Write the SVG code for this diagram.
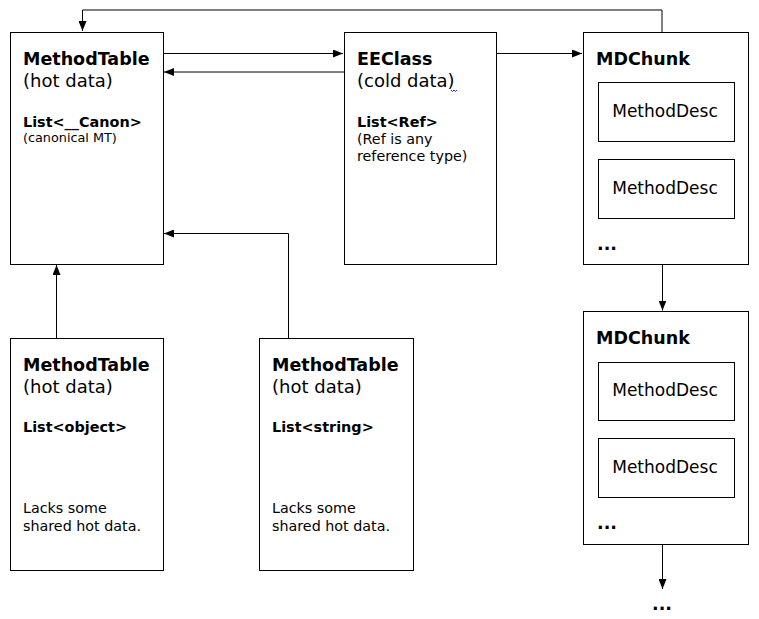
<svg xmlns="http://www.w3.org/2000/svg" width="759" height="619" viewBox="0 0 759 619">
<style>
.box{fill:#fff;stroke:#000;stroke-width:1}
.ln{fill:none;stroke:#000;stroke-width:1}
text{font-family:"DejaVu Sans",Verdana,sans-serif;fill:#000}
.t{font-size:17.5px;font-weight:bold}
.s{font-size:18px}
.b{font-size:14.4px;font-weight:bold}
.c{font-size:12.8px}
.m{font-size:14.3px}
.md{font-size:17px}
</style>
<defs>
<marker id="ah" markerWidth="10" markerHeight="8" refX="10" refY="4" orient="auto" markerUnits="userSpaceOnUse">
<path d="M0,0 L10,4 L0,8 Z" fill="#000"/>
</marker>
</defs>
<g id="connectors">
<path class="ln" d="M662,32 V10 H82.5 V31" marker-end="url(#ah)"/>
<path class="ln" d="M163,53.5 H343" marker-end="url(#ah)"/>
<path class="ln" d="M344,72 H164" marker-end="url(#ah)"/>
<path class="ln" d="M496,53.5 H582" marker-end="url(#ah)"/>
<path class="ln" d="M288.5,338 V233.5 H164" marker-end="url(#ah)"/>
<path class="ln" d="M56.5,338 V265" marker-end="url(#ah)"/>
<path class="ln" d="M662.5,265 V310.5" marker-end="url(#ah)"/>
<path class="ln" d="M662.5,544 V589" marker-end="url(#ah)"/>
</g>
<g id="mt-canon">
<rect class="box" x="10.5" y="32.5" width="153" height="232"/>
<text class="t" x="23" y="65">MethodTable</text>
<text class="s" x="23" y="87">(hot data)</text>
<text class="b" x="23" y="127">List&lt;__Canon&gt;</text>
<text class="c" x="23" y="142">(canonical MT)</text>
</g>
<g id="eeclass">
<rect class="box" x="344.5" y="32.5" width="152" height="232"/>
<text class="t" x="357" y="65">EEClass</text>
<text class="s" x="357" y="87">(cold data)</text>
<path d="M451,90 l1.5,1.5 l1.5,-1.5 l1.5,1.5 l1.5,-1.5" fill="none" stroke="#1030d0" stroke-width="1"/>
<text class="b" x="357" y="127">List&lt;Ref&gt;</text>
<text class="m" x="357" y="144">(Ref is any</text>
<text class="m" x="357" y="161">reference type)</text>
</g>
<g id="mdchunk1">
<rect class="box" x="583.5" y="32.5" width="165" height="232"/>
<text class="t" x="596" y="65">MDChunk</text>
<rect class="box" x="598.5" y="82.5" width="136" height="59"/>
<text class="md" x="665" y="117" text-anchor="middle">MethodDesc</text>
<rect class="box" x="598.5" y="159.5" width="136" height="59"/>
<text class="md" x="665" y="194" text-anchor="middle">MethodDesc</text>
<text class="t" x="597" y="250">...</text>
</g>
<g id="mdchunk2">
<rect class="box" x="583.5" y="311.5" width="165" height="233"/>
<text class="t" x="596" y="344">MDChunk</text>
<rect class="box" x="598.5" y="362.5" width="136" height="58"/>
<text class="md" x="665" y="396" text-anchor="middle">MethodDesc</text>
<rect class="box" x="598.5" y="438.5" width="136" height="59"/>
<text class="md" x="665" y="473" text-anchor="middle">MethodDesc</text>
<text class="t" x="597" y="529">...</text>
</g>
<g id="ellipsis-bottom">
<text class="t" x="652" y="610">...</text>
</g>
<g id="mt-object">
<rect class="box" x="10.5" y="338.5" width="153" height="232"/>
<text class="t" x="23" y="371">MethodTable</text>
<text class="s" x="23" y="393">(hot data)</text>
<text class="b" x="23" y="432">List&lt;object&gt;</text>
<text class="m" x="23" y="513">Lacks some</text>
<text class="m" x="23" y="531">shared hot data.</text>
</g>
<g id="mt-string">
<rect class="box" x="259.5" y="338.5" width="154" height="232"/>
<text class="t" x="272" y="371">MethodTable</text>
<text class="s" x="272" y="393">(hot data)</text>
<text class="b" x="272" y="432">List&lt;string&gt;</text>
<text class="m" x="272" y="513">Lacks some</text>
<text class="m" x="272" y="531">shared hot data.</text>
</g>
</svg>
